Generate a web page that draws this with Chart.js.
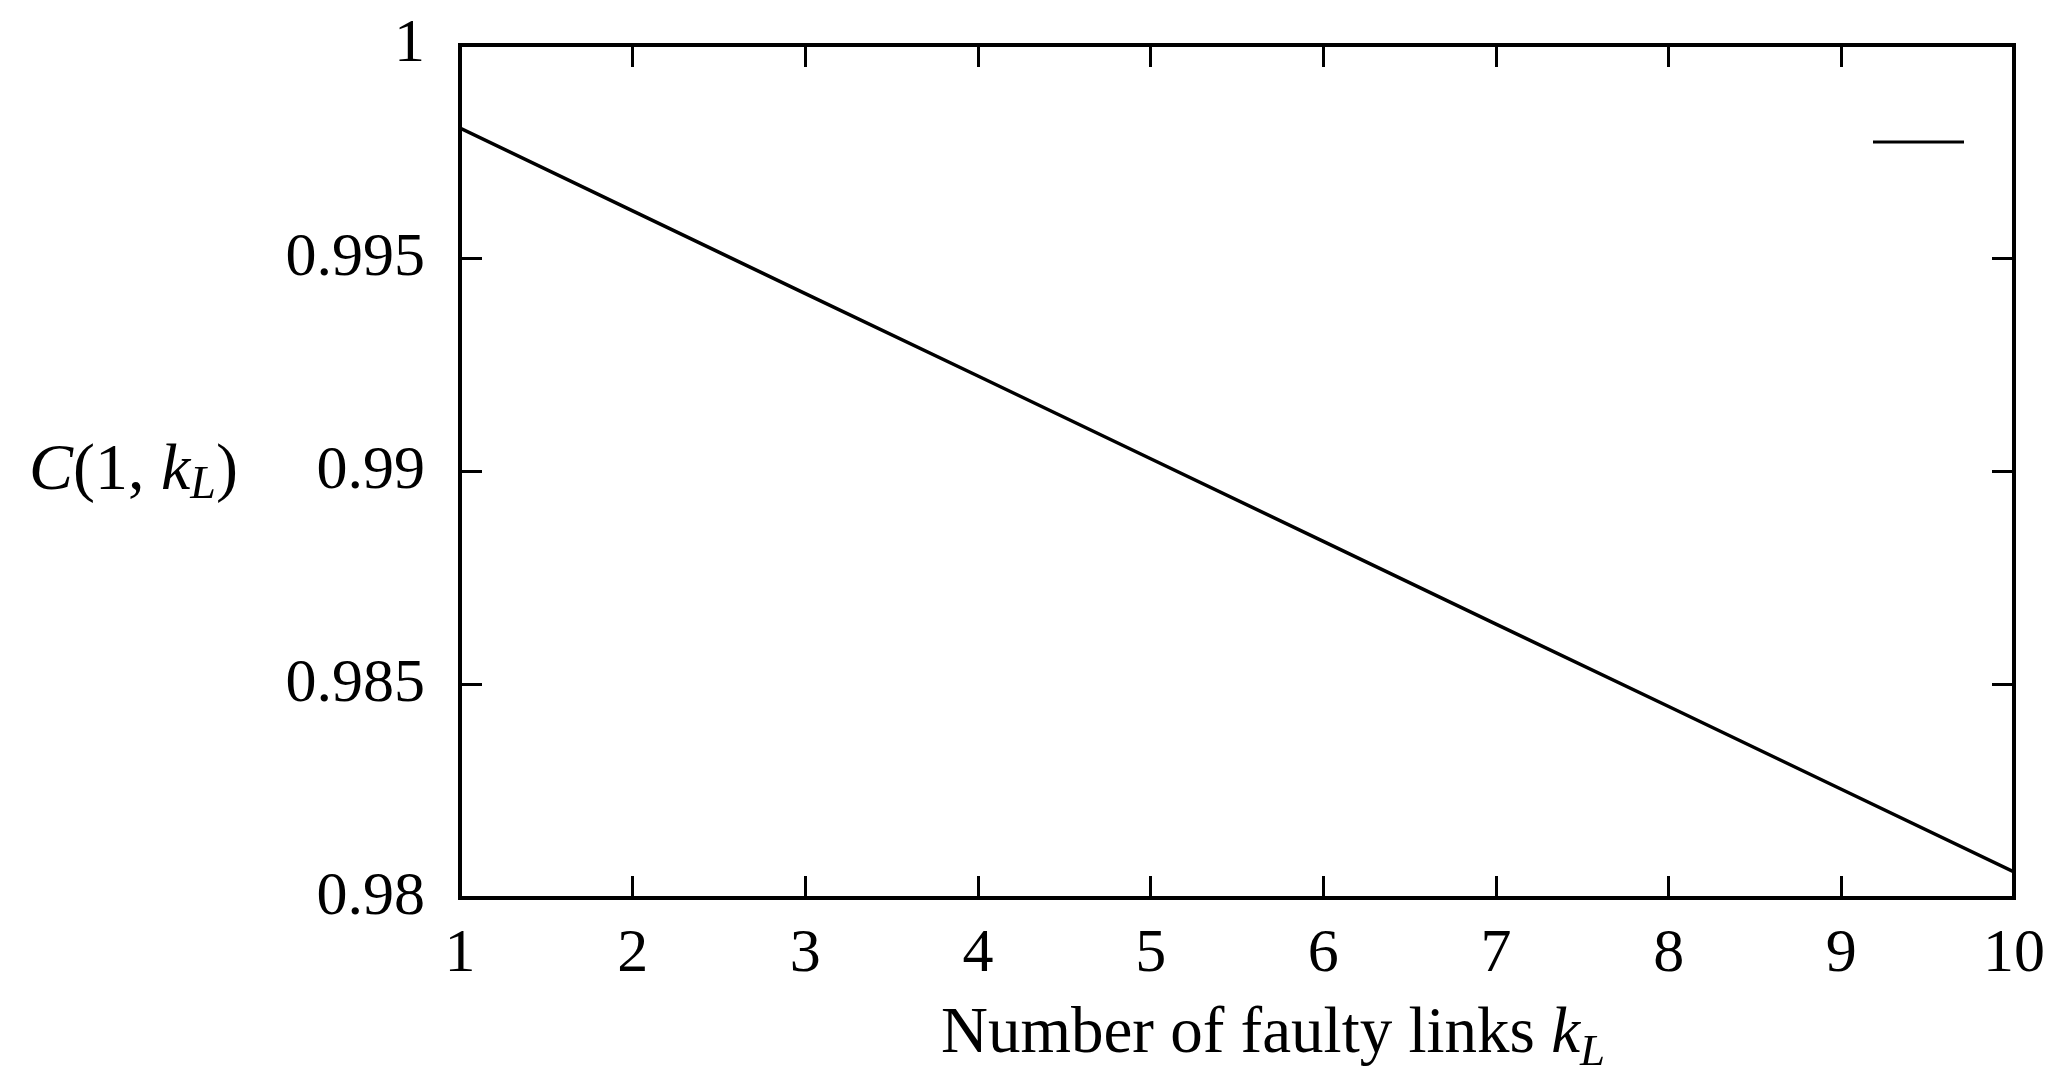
<!DOCTYPE html>
<html>
<head>
<meta charset="utf-8">
<script src="https://cdn.jsdelivr.net/npm/chart.js@4.4.1/dist/chart.umd.min.js"></script>
<style>
  html, body { margin: 0; padding: 0; background: #fff; }
  #wrap { width: 2047px; height: 1068px; }
</style>
</head>
<body>
<div id="wrap"><canvas id="linechart"></canvas></div>
<script>
// Data
const kValues = [1, 2, 3, 4, 5, 6, 7, 8, 9, 10];
const cValues = [0.99805, 0.99611, 0.99417, 0.99224, 0.9903, 0.98836, 0.98642, 0.98449, 0.98255, 0.98061];
const xTickLabels = ['1', '2', '3', '4', '5', '6', '7', '8', '9', '10'];
const yTickValues = [0.98, 0.985, 0.99, 0.995, 1];
const yTickLabels = ['0.98', '0.985', '0.99', '0.995', '1'];
const xTitle = 'Number of faulty links ';

const serif = "'Liberation Serif', 'DejaVu Serif', serif";
const tickFont = { family: serif, size: 62, lineHeight: 1 };

// axis titles with italic k and subscript L, drawn next to the plot box
const titlesPlugin = {
    id: 'titles',
    afterDraw(chart) {
        const ctx = chart.ctx;
        const area = chart.chartArea;
        ctx.save();
        ctx.fillStyle = '#000';
        ctx.textBaseline = 'middle';
        ctx.textAlign = 'left';

        // y title, horizontal, on the left
        const parts = [
            { t: 'C', f: 'italic 66px ' + serif, dy: 0 },
            { t: '(1, ', f: '66px ' + serif, dy: 0 },
            { t: 'k', f: 'italic 66px ' + serif, dy: 0 },
            { t: 'L', f: 'italic 46px ' + serif, dy: 14 },
            { t: ')', f: '66px ' + serif, dy: 0 }
        ];
        let x = 29;
        const ym = (area.top + area.bottom) / 2;
        parts.forEach(p => {
            ctx.font = p.f;
            ctx.fillText(p.t, x, ym + p.dy);
            x += ctx.measureText(p.t).width;
        });

        // x title, below the tick labels
        ctx.textBaseline = 'alphabetic';
        const xparts = [
            { t: xTitle, f: '65px ' + serif, dy: 0 },
            { t: 'k', f: 'italic 65px ' + serif, dy: 0 },
            { t: 'L', f: 'italic 45px ' + serif, dy: 13 }
        ];
        let total = 0;
        xparts.forEach(p => { ctx.font = p.f; total += ctx.measureText(p.t).width; });
        x = (area.left + area.right) / 2 + 36 - total / 2;
        const yb = area.bottom + 154;
        xparts.forEach(p => {
            ctx.font = p.f;
            ctx.fillText(p.t, x, yb + p.dy);
            x += ctx.measureText(p.t).width;
        });

        // legend sample (key without text) in the top right corner
        ctx.strokeStyle = '#000';
        ctx.lineWidth = 3;
        ctx.beginPath();
        ctx.moveTo(area.right - 141, area.top + 97);
        ctx.lineTo(area.right - 50, area.top + 97);
        ctx.stroke();
        ctx.restore();
    }
};

const inwardGrid = { drawOnChartArea: false, drawTicks: true, tickLength: -22, color: '#000', lineWidth: 3 };
const frame = { display: true, color: '#000', width: 4 };

new Chart('linechart', {
    type: 'line',
    data: {
        datasets: [{
            label: '',
            data: kValues.map((k, i) => ({ x: k, y: cValues[i] })),
            borderColor: '#000',
            borderWidth: 3.5,
            pointRadius: 0,
            tension: 0,
            fill: false
        }]
    },
    options: {
        responsive: true,
        maintainAspectRatio: false,
        animation: false,
        layout: { padding: { top: 45, right: 33, bottom: 0, left: 0 } },
        plugins: {
            legend: { display: false },
            tooltip: { enabled: false }
        },
        scales: {
            x: {
                type: 'linear',
                position: 'bottom',
                min: 1,
                max: 10,
                grid: inwardGrid,
                border: frame,
                ticks: {
                    stepSize: 1,
                    color: '#000',
                    font: tickFont,
                    padding: 48,
                    maxRotation: 0,
                    callback: (v, i) => xTickLabels[i]
                },
                afterFit: s => { s.height = 170; s.paddingLeft = 0; s.paddingRight = 0; }
            },
            x2: {
                type: 'linear',
                position: 'top',
                min: 1,
                max: 10,
                grid: inwardGrid,
                border: frame,
                ticks: { display: false, stepSize: 1 },
                afterFit: s => { s.height = 0; s.paddingLeft = 0; s.paddingRight = 0; }
            },
            y: {
                type: 'linear',
                position: 'left',
                min: 0.98,
                max: 1,
                grid: inwardGrid,
                border: frame,
                afterBuildTicks: s => { s.ticks = yTickValues.map(v => ({ value: v })); },
                ticks: {
                    color: '#000',
                    font: tickFont,
                    padding: 57,
                    callback: (v, i) => yTickLabels[i]
                },
                afterFit: s => { s.width = 460; s.paddingTop = 0; s.paddingBottom = 0; }
            },
            y2: {
                type: 'linear',
                position: 'right',
                min: 0.98,
                max: 1,
                grid: inwardGrid,
                border: frame,
                afterBuildTicks: s => { s.ticks = yTickValues.map(v => ({ value: v })); },
                ticks: { display: false },
                afterFit: s => { s.width = 0; s.paddingTop = 0; s.paddingBottom = 0; }
            }
        }
    },
    plugins: [titlesPlugin]
});
</script>
</body>
</html>
